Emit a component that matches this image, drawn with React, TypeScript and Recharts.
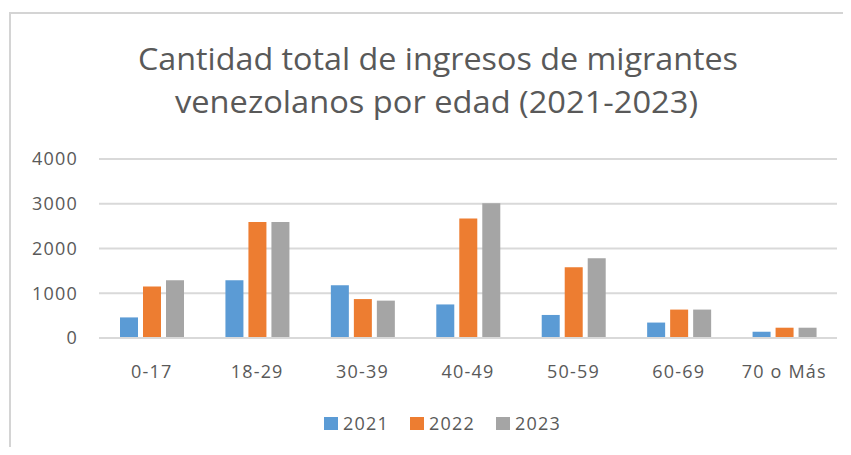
import React from 'react';
import { BarChart, Bar, XAxis, YAxis, CartesianGrid, Legend } from 'recharts';

const categories = ['0-17', '18-29', '30-39', '40-49', '50-59', '60-69', '70 o Más'];
const values2021 = [460, 1290, 1180, 750, 515, 345, 140];
const values2022 = [1150, 2590, 870, 2670, 1580, 635, 230];
const values2023 = [1290, 2590, 835, 3010, 1780, 635, 230];
const seriesNames = ['2021', '2022', '2023'];
const seriesColors = ['#5b9bd5', '#ed7d31', '#a5a5a5'];
const yTicks = [0, 1000, 2000, 3000, 4000];
const titleLines = ['Cantidad total de ingresos de migrantes', 'venezolanos por edad (2021-2023)'];

const data = categories.map((c, i) => ({
  cat: c,
  [seriesNames[0]]: values2021[i],
  [seriesNames[1]]: values2022[i],
  [seriesNames[2]]: values2023[i],
}));

const FONT = "'Open Sans', 'DejaVu Sans', sans-serif";
const TEXT = '#595959';

const LegendContent = (props: any) => {
  const payload = props.payload || [];
  return (
    <div
      style={{
        display: 'flex',
        justifyContent: 'center',
        alignItems: 'center',
        height: 24,
        transform: 'translateX(24px)',
        fontFamily: FONT,
        fontSize: 18,
        letterSpacing: 1.2,
        color: TEXT,
      }}
    >
      {payload.map((p: any, i: number) => (
        <div
          key={p.value}
          style={{ display: 'flex', alignItems: 'center', marginLeft: i === 0 ? 0 : 21 }}
        >
          <div style={{ width: 14, height: 13, background: p.color, marginRight: 5 }} />
          <span style={{ lineHeight: '24px' }}>{p.value}</span>
        </div>
      ))}
    </div>
  );
};

export default function App() {
  return (
    <div style={{ position: 'relative', width: 851, height: 455, margin: -8, overflow: 'hidden', background: '#fff' }}>
      <div
        style={{
          position: 'absolute',
          left: 9,
          top: 12,
          width: 900,
          height: 500,
          border: '2px solid #d4d4d4',
        }}
      />
      <svg width={851} height={140} style={{ position: 'absolute', left: 0, top: 0 }}>
        <text
          x={438}
          y={70}
          textAnchor="middle"
          fontFamily={FONT}
          fontSize={31}
          fill={TEXT}
          textLength={600}
          lengthAdjust="spacingAndGlyphs"
        >
          {titleLines[0]}
        </text>
        <text
          x={436.5}
          y={113}
          textAnchor="middle"
          fontFamily={FONT}
          fontSize={31}
          fill={TEXT}
          textLength={523}
          lengthAdjust="spacingAndGlyphs"
        >
          {titleLines[1]}
        </text>
      </svg>
      <div style={{ position: 'absolute', left: 0, top: 0 }}>
        <BarChart
          width={851}
          height={455}
          data={data}
          margin={{ top: 159, right: 14, left: 0, bottom: 20 }}
          barSize={18}
          barGap={5}
        >
          <CartesianGrid vertical={false} stroke="#d9d9d9" strokeWidth={2} />
          <XAxis
            dataKey="cat"
            height={73}
            axisLine={{ stroke: '#d9d9d9', strokeWidth: 2 }}
            tickLine={false}
            tickSize={0}
            tickMargin={27}
            interval={0}
            tick={{ fill: TEXT, fontSize: 18, fontFamily: FONT, letterSpacing: 1.2 }}
          />
          <YAxis
            width={99}
            domain={[0, 4000]}
            ticks={yTicks}
            axisLine={false}
            tickLine={false}
            tickSize={0}
            tickMargin={21}
            tick={{ fill: TEXT, fontSize: 18, fontFamily: FONT, letterSpacing: 1.2 }}
          />
          <Legend verticalAlign="bottom" content={<LegendContent />} />
          {seriesNames.map((s, i) => (
            <Bar key={s} dataKey={s} name={s} fill={seriesColors[i]} isAnimationActive={false} />
          ))}
        </BarChart>
      </div>
    </div>
  );
}
